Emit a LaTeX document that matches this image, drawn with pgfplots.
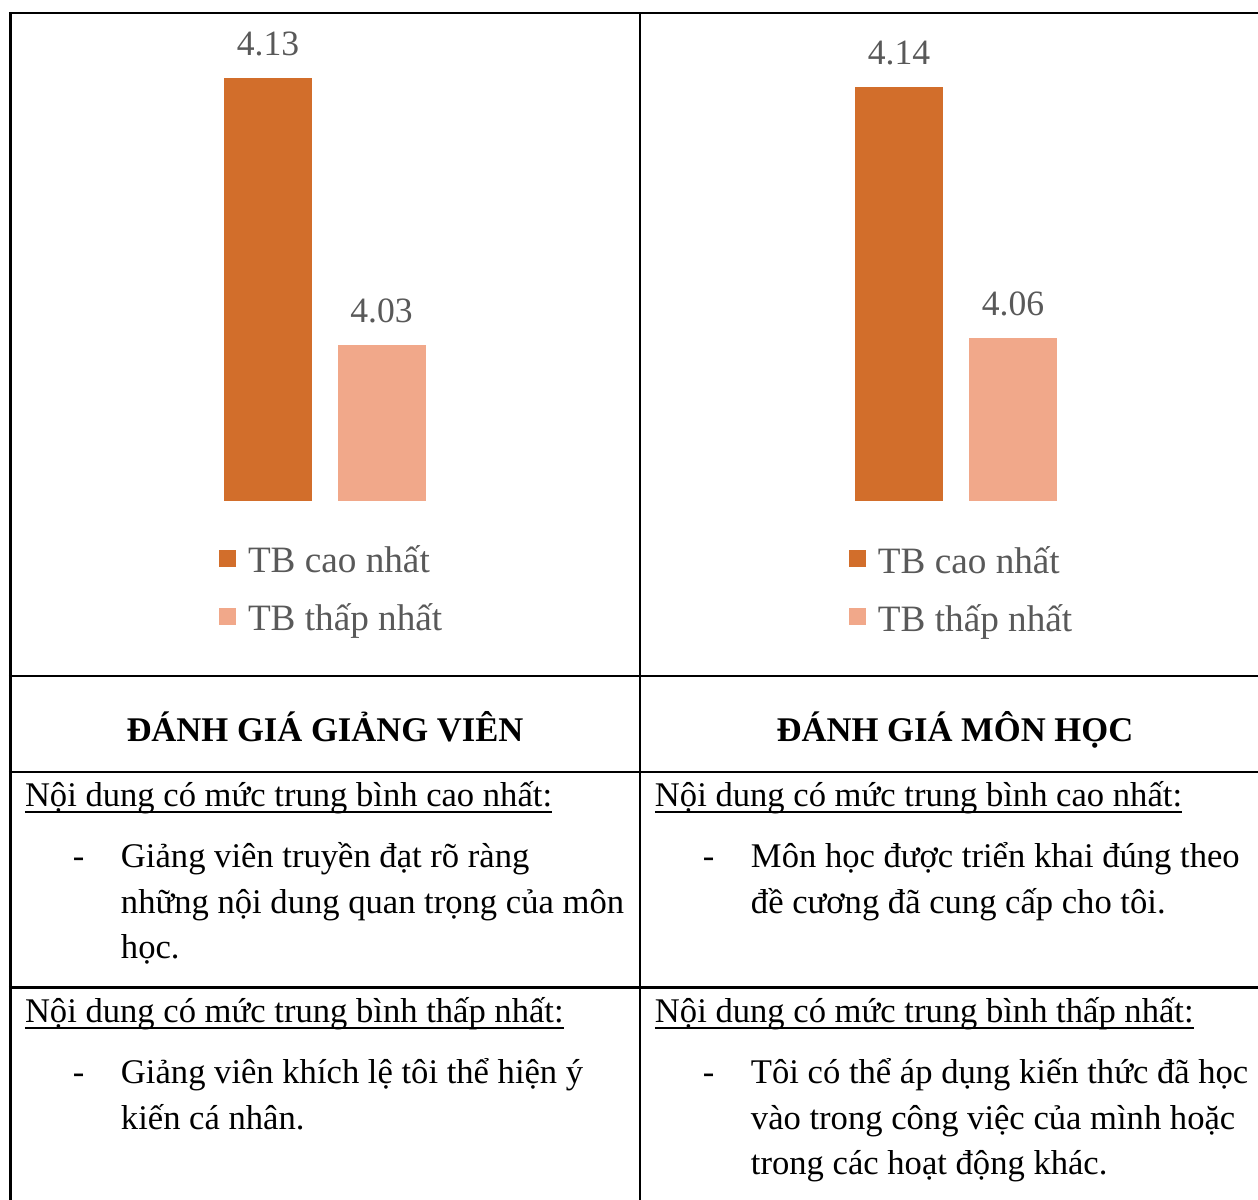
\documentclass[border=0pt]{standalone}
\usepackage{fontspec}
\setmainfont{Liberation Serif}
\usepackage{pgfplots}
\pgfplotsset{compat=1.18}
\definecolor{cgray}{HTML}{595959}
\definecolor{barA}{HTML}{D26E2B}
\definecolor{barB}{HTML}{F1A88A}
\newcommand{\bodyfont}{\fontsize{8.65pt}{11.5pt}\selectfont}
\pgfplotsset{
  mybars/.style={
    scale only axis, hide axis, clip=false,
    xmin=-0.5, xmax=1.5,
    /pgf/number format/.cd, fixed, fixed zerofill, precision=2, assume math mode=true, /pgfplots/.cd,
    legend style={at={(0,0)}, anchor=north west, draw=none, fill=none, inner sep=0pt, outer sep=0pt,
      row sep=5pt, column sep=3pt,
      nodes={inner sep=0pt, text height=7pt, text depth=2.5pt, font=\fontsize{9.3pt}{11pt}\selectfont, text=cgray}},
    legend cell align=left,
  },
  mybar/.style={ybar, bar width=22pt, bar shift=0pt, fill=#1, draw=none,
    nodes near coords,
    every node near coord/.append style={font=\fontsize{8.9pt}{10pt}\selectfont, text=cgray, inner sep=0pt, anchor=south, yshift=5.25pt},
    legend image code/.code={\fill[##1] (0pt,-0.75pt) rectangle (4.25pt,3.5pt);}},
}
\begin{document}
\begin{tikzpicture}
\useasboundingbox (0,0) rectangle (314.5pt,-300pt);
\fill[white] (0,0) rectangle (314.5pt,-300pt);
\begin{scope}[x=0.25pt,y=-0.25pt]
  % table rules
  \begin{scope}[line width=0.6pt, black]
    \draw (9,13) -- (1262,13);
    \draw (9,676) -- (1262,676);
    \draw (9,772) -- (1262,772);
    \draw (9,987.5) -- (1262,987.5);
    \draw (10.5,12) -- (10.5,1205);
    \draw (640,12) -- (640,1205);
  \end{scope}
  \begin{scope}[every node/.style={inner sep=0pt, outer sep=0pt, font=\bodyfont}]
    % headers
    \node[anchor=base] at (325,741) {\textbf{ĐÁNH GIÁ GIẢNG VIÊN}};
    \node[anchor=base] at (955,741) {\textbf{ĐÁNH GIÁ MÔN HỌC}};
    % row 1 left
    \node[anchor=base west] (a1) at (25,806) {Nội dung có mức trung bình cao nhất:};
    \node[anchor=base west] at (73,867) {-};
    \node[anchor=base west] at (121,867) {Giảng viên truyền đạt rõ ràng};
    \node[anchor=base west] at (121,913) {những nội dung quan trọng của môn};
    \node[anchor=base west] at (121,959) {học.};
    % row 1 right
    \node[anchor=base west] (b1) at (655,806) {Nội dung có mức trung bình cao nhất:};
    \node[anchor=base west] at (703,867) {-};
    \node[anchor=base west] at (751,867) {Môn học được triển khai đúng theo};
    \node[anchor=base west] at (751,913) {đề cương đã cung cấp cho tôi.};
    % row 2 left
    \node[anchor=base west] (a2) at (25,1022) {Nội dung có mức trung bình thấp nhất:};
    \node[anchor=base west] at (73,1083) {-};
    \node[anchor=base west] at (121,1083) {Giảng viên khích lệ tôi thể hiện ý};
    \node[anchor=base west] at (121,1129) {kiến cá nhân.};
    % row 2 right
    \node[anchor=base west] (b2) at (655,1022) {Nội dung có mức trung bình thấp nhất:};
    \node[anchor=base west] at (703,1083) {-};
    \node[anchor=base west] at (751,1083) {Tôi có thể áp dụng kiến thức đã học};
    \node[anchor=base west] at (751,1129) {vào trong công việc của mình hoặc};
    \node[anchor=base west] at (751,1175) {trong các hoạt động khác.};
  \end{scope}
  \foreach \n in {a1,a2,b1,b2}{
    \draw[line width=0.5pt] ([yshift=-1.5pt]\n.base west) -- ([yshift=-1.5pt]\n.base east);
  }
\end{scope}
% left chart
\begin{axis}[mybars, at={(52.8125pt,-125.125pt)}, anchor=south west,
  width=56.75pt, height=119.1pt, ymin=3.9716, ymax=4.15,
  legend style={xshift=1.94pt, yshift=-11.1pt}]
\addplot[mybar=barA] coordinates {(0,4.13)};
\addplot[mybar=barB] coordinates {(1,4.03)};
\legend{TB cao nhất, TB thấp nhất}
\end{axis}
% right chart
\begin{axis}[mybars, at={(210.5pt,-125.25pt)}, anchor=south west,
  width=57pt, height=111.4pt, ymin=4.008, ymax=4.15,
  legend style={xshift=1.75pt, yshift=-11.1pt}]
\addplot[mybar=barA] coordinates {(0,4.14)};
\addplot[mybar=barB] coordinates {(1,4.06)};
\legend{TB cao nhất, TB thấp nhất}
\end{axis}
\end{tikzpicture}
\end{document}
